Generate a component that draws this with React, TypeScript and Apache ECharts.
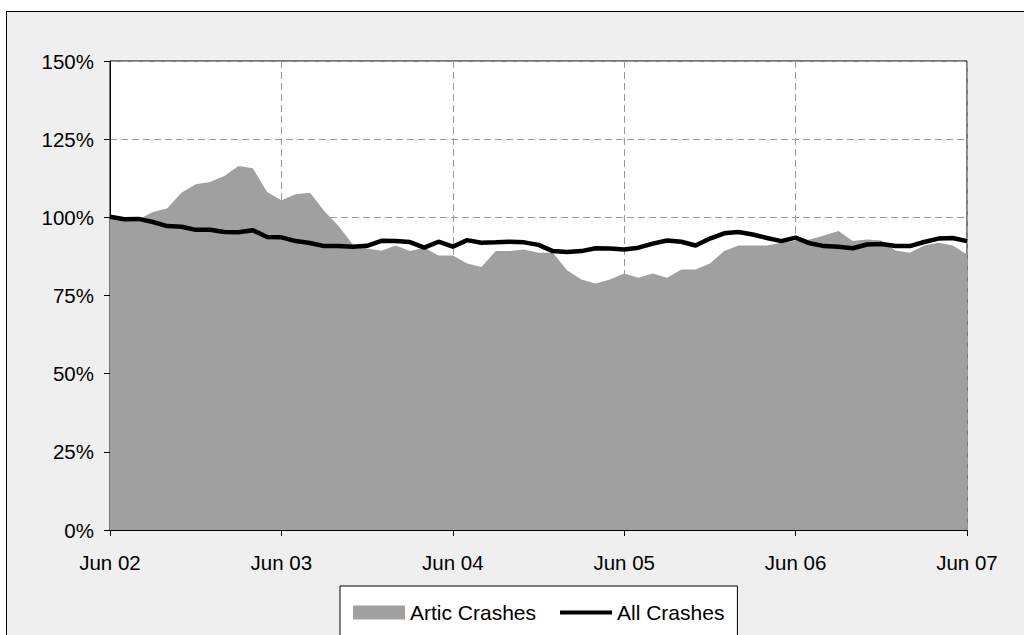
import React, { useEffect, useRef } from "react";
import * as echarts from "echarts";

const months: string[] = [
  "Jun 02","Jul 02","Aug 02","Sep 02","Oct 02","Nov 02","Dec 02","Jan 03","Feb 03","Mar 03","Apr 03","May 03",
  "Jun 03","Jul 03","Aug 03","Sep 03","Oct 03","Nov 03","Dec 03","Jan 04","Feb 04","Mar 04","Apr 04","May 04",
  "Jun 04","Jul 04","Aug 04","Sep 04","Oct 04","Nov 04","Dec 04","Jan 05","Feb 05","Mar 05","Apr 05","May 05",
  "Jun 05","Jul 05","Aug 05","Sep 05","Oct 05","Nov 05","Dec 05","Jan 06","Feb 06","Mar 06","Apr 06","May 06",
  "Jun 06","Jul 06","Aug 06","Sep 06","Oct 06","Nov 06","Dec 06","Jan 07","Feb 07","Mar 07","Apr 07","May 07",
  "Jun 07",
];

const articCrashes: number[] = [
  100, 99, 99.3, 101.7, 102.8, 107.9, 110.6, 111.3, 113.2, 116.4, 115.7, 108.1,
  105.5, 107.4, 107.9, 102, 97.2, 91.3, 90, 89.3, 91, 89.2, 90.3, 87.8,
  87.8, 85.2, 84.1, 89.2, 89.2, 89.7, 88.7, 88.7, 83.1, 80.1, 78.8, 80.1,
  82, 80.7, 82, 80.7, 83.3, 83.3, 85.2, 89.2, 91, 91, 91, 91.9,
  92.5, 92.9, 94.2, 95.6, 92.4, 92.9, 92.6, 89.4, 88.7, 91, 91.9, 91,
  88.1,
];

const allCrashes: number[] = [
  100.2, 99.4, 99.5, 98.5, 97.2, 97.0, 96.0, 96.0, 95.3, 95.2, 95.9, 93.7,
  93.6, 92.4, 91.8, 90.8, 90.8, 90.6, 90.9, 92.5, 92.4, 92.1, 90.3, 92.2,
  90.6, 92.7, 91.9, 92.0, 92.2, 92.0, 91.2, 89.2, 88.9, 89.2, 90.1, 90.0,
  89.7, 90.3, 91.6, 92.6, 92.2, 91.0, 93.2, 94.9, 95.3, 94.5, 93.4, 92.4,
  93.5, 91.7, 90.8, 90.6, 90.1, 91.3, 91.5, 90.8, 90.8, 92.1, 93.2, 93.4,
  92.4,
];

const seriesNames = ["Artic Crashes", "All Crashes"];

const FONT = "'Liberation Sans', Arial, sans-serif";

export default function App() {
  const ref = useRef<HTMLDivElement>(null);

  useEffect(() => {
    if (!ref.current) return;
    const chart = echarts.init(ref.current, null, { renderer: "svg" });
    chart.setOption({
      animation: false,
      backgroundColor: "transparent",
      textStyle: { fontFamily: FONT },
      grid: {
        left: 110,
        top: 61,
        right: 57,
        bottom: 105,
        show: true,
        backgroundColor: "#ffffff",
        borderColor: "#000000",
        borderWidth: 1,
        containLabel: false,
      },
      legend: {
        left: 340,
        top: 586,
        padding: [16, 13, 16, 13],
        itemWidth: 52,
        itemHeight: 14,
        itemGap: 24,
        symbolKeepAspect: true,
        backgroundColor: "#ffffff",
        borderColor: "#000000",
        borderWidth: 1,
        borderRadius: 0,
        textStyle: { fontFamily: FONT, fontSize: 21, color: "#000000" },
        data: [
          { name: seriesNames[0], icon: "rect", itemStyle: { color: "#a0a0a0" } },
          {
            name: seriesNames[1],
            icon: "path://M0,0L56,0L56,4.5L0,4.5Z",
            itemStyle: { color: "#000000" },
          },
        ],
      },
      xAxis: {
        type: "category",
        data: months,
        boundaryGap: false,
        axisLine: { show: true, lineStyle: { color: "#000000", width: 1 } },
        axisTick: {
          show: true,
          interval: 11,
          length: 6,
          inside: false,
          lineStyle: { color: "#000000" },
        },
        axisLabel: {
          interval: 11,
          margin: 22,
          fontFamily: FONT,
          fontSize: 20.5,
          color: "#000000",
        },
        splitLine: {
          show: true,
          interval: 11,
          lineStyle: { color: "#9a9a9a", type: [7, 4], width: 1 },
        },
      },
      yAxis: {
        type: "value",
        min: 0,
        max: 150,
        interval: 25,
        axisLine: { show: true, lineStyle: { color: "#000000", width: 1 } },
        axisTick: { show: true, length: 6, lineStyle: { color: "#000000" } },
        axisLabel: {
          formatter: "{value}%",
          margin: 16,
          fontFamily: FONT,
          fontSize: 20.5,
          color: "#000000",
        },
        splitLine: {
          show: true,
          lineStyle: { color: "#9a9a9a", type: [7, 4], width: 1 },
        },
      },
      series: [
        {
          name: seriesNames[0],
          type: "line",
          data: articCrashes,
          symbol: "none",
          color: "#a0a0a0",
          lineStyle: { width: 0, color: "#a0a0a0" },
          areaStyle: { color: "#a0a0a0", opacity: 1 },
          itemStyle: { color: "#a0a0a0" },
          z: 2,
        },
        {
          name: seriesNames[1],
          type: "line",
          data: allCrashes,
          symbol: "none",
          color: "#000000",
          lineStyle: { width: 4.5, color: "#000000" },
          itemStyle: { color: "#000000" },
          z: 3,
        },
      ],
    });
    return () => chart.dispose();
  }, []);

  return (
    <div
      style={{
        position: "fixed",
        left: 0,
        top: 0,
        width: 1024,
        height: 635,
        overflow: "hidden",
        background: "#ffffff",
      }}
    >
      <div
        style={{
          position: "absolute",
          left: 6,
          top: 11,
          width: 1200,
          height: 800,
          background: "#efefef",
          border: "1px solid #000000",
          boxSizing: "border-box",
        }}
      />
      <div
        ref={ref}
        style={{ position: "absolute", left: 0, top: 0, width: 1024, height: 635 }}
      />
    </div>
  );
}
